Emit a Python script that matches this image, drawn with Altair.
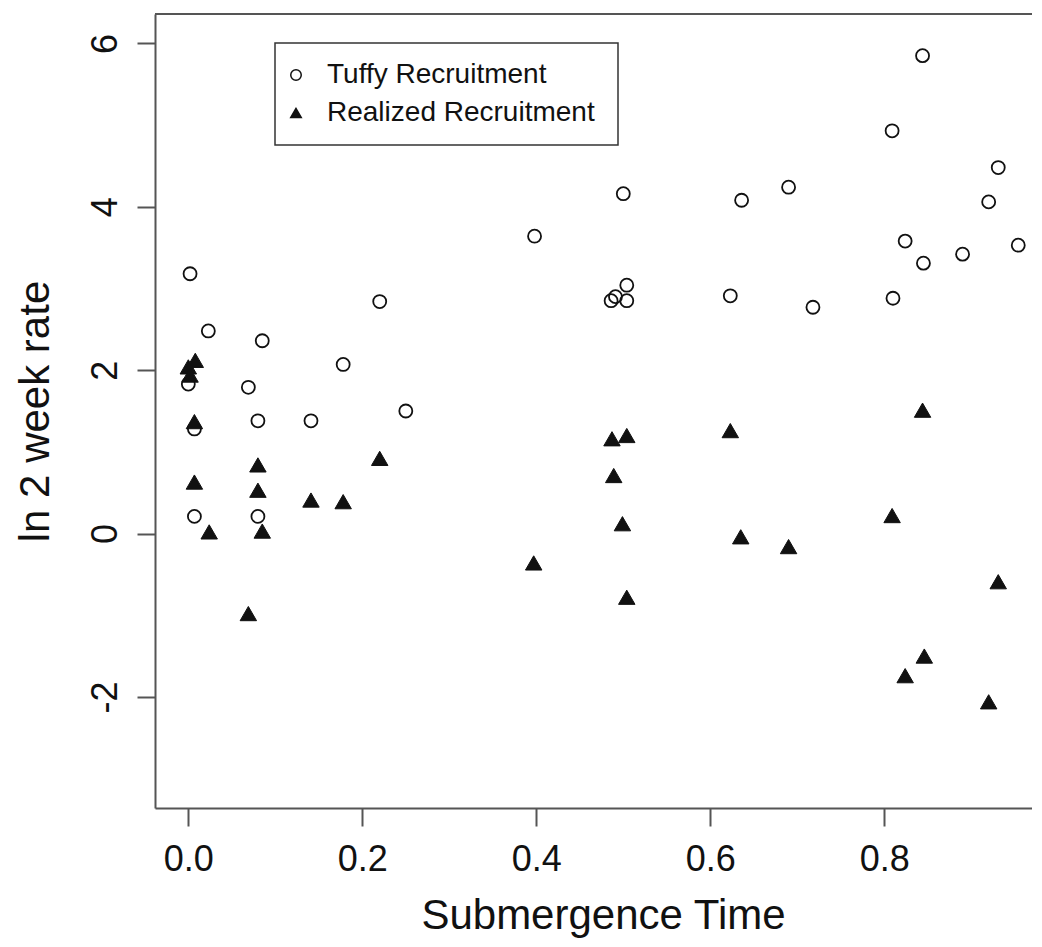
import altair as alt
import pandas as pd

# ---- data ----
series_names = ["Tuffy Recruitment", "Realized Recruitment"]

tuffy_x = [0.002, 0.023, 0.085, 0.000, 0.069, 0.007, 0.080, 0.141, 0.178, 0.007,
           0.080, 0.220, 0.250, 0.398, 0.500, 0.504, 0.486, 0.491, 0.504, 0.623,
           0.636, 0.690, 0.718, 0.809, 0.810, 0.824, 0.844, 0.845, 0.890, 0.920,
           0.931, 0.954]
tuffy_y = [3.18, 2.48, 2.36, 1.83, 1.79, 1.28, 1.38, 1.38, 2.07, 0.21,
           0.21, 2.84, 1.50, 3.64, 4.16, 3.04, 2.85, 2.90, 2.85, 2.91,
           4.08, 4.24, 2.77, 4.93, 2.88, 3.58, 5.85, 3.31, 3.42, 4.06,
           4.48, 3.53]

realized_x = [0.008, 0.000, 0.002, 0.007, 0.007, 0.024, 0.080, 0.080, 0.085, 0.069,
              0.141, 0.178, 0.220, 0.397, 0.487, 0.504, 0.489, 0.499, 0.504, 0.623,
              0.635, 0.690, 0.809, 0.844, 0.824, 0.846, 0.920, 0.931]
realized_y = [2.12, 2.04, 1.94, 1.37, 0.63, 0.02, 0.84, 0.53, 0.03, -0.98,
              0.41, 0.39, 0.92, -0.36, 1.16, 1.20, 0.71, 0.12, -0.78, 1.26,
              -0.04, -0.16, 0.22, 1.51, -1.74, -1.50, -2.06, -0.59]

x_ticks = [0.0, 0.2, 0.4, 0.6, 0.8]
y_ticks = [-2, 0, 2, 4, 6]
x_domain = [-0.0383, 0.9698]
y_domain = [-3.36, 6.36]

df = pd.DataFrame({
    "x": tuffy_x + realized_x,
    "y": tuffy_y + realized_y,
    "series": [series_names[0]] * len(tuffy_x) + [series_names[1]] * len(realized_x),
})

FONT = "Liberation Sans"
W, H = 877, 794
INK = "#111111"
AXC = "#555555"

x_enc = alt.X(
    "x:Q",
    scale=alt.Scale(domain=x_domain, nice=False, zero=False),
    axis=alt.Axis(
        values=x_ticks,
        title="Submergence Time",
        labelExpr="format(datum.value, '.1f')",
        labelFlush=False,
        labelOverlap=False,
        labelPadding=16,
        labelBaseline="top",
        titleX=448,
        titleY=120,
        titleAlign="center",
        titleBaseline="alphabetic",
    ),
)
y_enc = alt.Y(
    "y:Q",
    scale=alt.Scale(domain=y_domain, nice=False, zero=False),
    axis=alt.Axis(
        values=y_ticks,
        title="ln 2 week rate",
        labelExpr="'' + datum.value",
        labelAngle=270,
        labelAlign="center",
        labelBaseline="alphabetic",
        labelPadding=21,
        labelFlush=False,
        labelOverlap=False,
        titleAngle=270,
        titleX=-107,
        titleY=397,
        titleAlign="center",
        titleBaseline="alphabetic",
    ),
)

shape_enc = alt.Shape("series:N", scale=alt.Scale(domain=series_names, range=["circle", "triangle-up"]),
                      sort=series_names, title=None)
fill_enc = alt.Fill("series:N", scale=alt.Scale(domain=series_names, range=["transparent", INK]),
                    sort=series_names, title=None)
stroke_enc = alt.Stroke("series:N", scale=alt.Scale(domain=series_names, range=[INK, INK]),
                        sort=series_names, title=None)

base = alt.Chart(df).encode(x=x_enc, y=y_enc, shape=shape_enc, fill=fill_enc, stroke=stroke_enc)

circles = base.transform_filter(alt.datum.series == series_names[0]).mark_point(
    size=169, strokeWidth=1.8, opacity=1
)
triangles = base.transform_filter(alt.datum.series == series_names[1]).mark_point(
    size=270, strokeWidth=1, opacity=1
)

frame = pd.DataFrame({"k": [0]})
top_border = alt.Chart(frame).mark_rule(color=AXC, strokeWidth=2).encode(
    x=alt.value(0), x2=alt.value(W), y=alt.value(0), y2=alt.value(0)
)
legend_box = alt.Chart(frame).mark_rect(fill="white", stroke="#333333", strokeWidth=1.5).encode(
    x=alt.value(120), x2=alt.value(463), y=alt.value(29), y2=alt.value(131)
)

chart = (
    alt.layer(top_border, legend_box, circles, triangles)
    .properties(
        width=W,
        height=H,
        autosize="none",
        padding={"left": 147, "top": 6, "right": 0, "bottom": 130},
        background="white",
    )
    .configure_view(stroke="#ffffff", strokeOpacity=0, strokeWidth=0)
    .configure_axis(
        labelFont=FONT,
        labelFontSize=36,
        labelColor=INK,
        titleFont=FONT,
        titleFontSize=42,
        titleFontWeight="normal",
        titleColor=INK,
        domainColor=AXC,
        domainWidth=2,
        tickColor=AXC,
        tickWidth=2,
        tickSize=18,
        grid=False,
    )
    .configure_legend(
        orient="none",
        legendX=127,
        legendY=47,
        padding=0,
        labelFont=FONT,
        labelFontSize=28,
        labelColor=INK,
        labelOffset=17,
        labelLimit=600,
        rowPadding=10,
        symbolSize=110,
        symbolStrokeWidth=1.5,
    )
)

chart.save("out.html", embed_options={"renderer": "svg", "actions": False})
